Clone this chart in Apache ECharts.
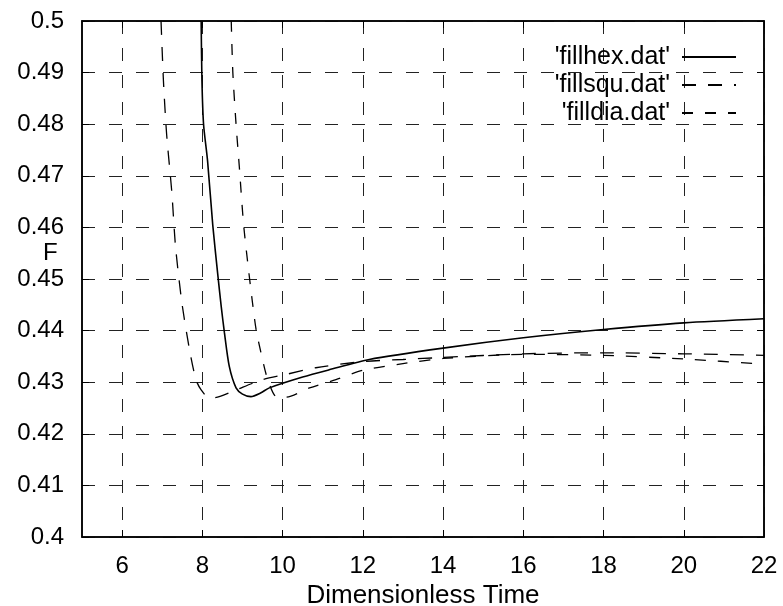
<!DOCTYPE html>
<html>
<head>
<meta charset="utf-8">
<script src="https://cdn.jsdelivr.net/npm/echarts@6/dist/echarts.min.js"></script>
<style>
  html, body { margin: 0; background: #fff; }
  #chart { width: 783px; height: 606px; }
</style>
</head>
<body>
<div id="chart"></div>
<script>
// tick values for the time axis
const xTicks = [6, 8, 10, 12, 14, 16, 18, 20, 22];

// 'fillhex.dat'
const hexT = [7.97, 7.99, 8.03, 8.13, 8.26, 8.38, 8.47, 8.55, 8.67, 8.84, 9.0, 9.21, 9.45, 9.67, 10.5, 11.16, 12.16, 14, 16, 18, 20, 22];
const hexF = [0.500, 0.4884, 0.480, 0.4729, 0.4604, 0.4512, 0.4447, 0.4396, 0.4331, 0.4289, 0.4277, 0.4272, 0.4279, 0.4289, 0.4310, 0.4324, 0.4344, 0.4366, 0.4386, 0.4402, 0.4415, 0.4423];

// 'fillsqu.dat'
const squT = [6.97, 7.03, 7.11, 7.24, 7.33, 7.49, 7.68, 7.84, 7.97, 8.18, 8.42, 8.84, 9.5, 10.08, 10.83, 12, 13, 14, 16, 18, 20, 22];
const squF = [0.500, 0.4884, 0.478, 0.4667, 0.4564, 0.4454, 0.4363, 0.4305, 0.4285, 0.4269, 0.4272, 0.4285, 0.4305, 0.4315, 0.4328, 0.4340, 0.4344, 0.4348, 0.4355, 0.4357, 0.4355, 0.4352];

// 'filldia.dat'
const diaT = [8.72, 8.76, 8.84, 8.92, 9.03, 9.16, 9.25, 9.34, 9.5, 9.63, 9.84, 10.08, 10.67, 11.33, 12, 13, 14, 16, 18, 20, 22];
const diaF = [0.500, 0.490, 0.480, 0.4719, 0.4604, 0.4512, 0.4454, 0.4402, 0.4344, 0.4305, 0.4272, 0.4271, 0.4289, 0.4305, 0.4323, 0.4336, 0.4346, 0.4354, 0.4352, 0.4345, 0.4335];

const pairs = (xs, ys) => xs.map((x, i) => [x, ys[i]]);

const font = 'Liberation Sans';
const gridLine = { show: true, lineStyle: { color: '#222', width: 1, type: [13, 14] } };

const chart = echarts.init(document.getElementById('chart'));

chart.setOption({
  animation: false,
  backgroundColor: '#fff',
  grid: {
    left: 82, right: 19, top: 21, bottom: 69,
    outerBoundsMode: 'none',
    show: true, borderColor: '#000', borderWidth: 1.5
  },
  legend: {
    orient: 'vertical',
    align: 'right',
    right: 41,
    top: 38,
    itemWidth: 54,
    itemHeight: 14,
    itemGap: 0,
    itemStyle: { opacity: 0, borderWidth: 0 },
    textStyle: { fontFamily: font, fontSize: 25, color: '#000', lineHeight: 28, padding: [0, 7, 0, 0] },
    data: ["'fillhex.dat'", "'fillsqu.dat'", "'filldia.dat'"]
  },
  xAxis: [{
    type: 'value',
    min: 5,
    max: 22,
    name: 'Dimensionless Time',
    nameLocation: 'middle',
    nameGap: 44,
    nameTextStyle: { fontFamily: font, fontSize: 26, color: '#000' },
    axisLine: { show: true, lineStyle: { color: '#000', width: 1.5 } },
    axisTick: { show: true, inside: true, length: 7, customValues: xTicks, lineStyle: { color: '#000' } },
    axisLabel: { customValues: xTicks, fontFamily: font, fontSize: 24, color: '#000', margin: 17 },
    splitLine: gridLine
  }, {
    type: 'value',
    position: 'top',
    min: 5,
    max: 22,
    axisLine: { show: true, lineStyle: { color: '#000', width: 1.5 } },
    axisTick: { show: true, inside: true, length: 7, customValues: xTicks, lineStyle: { color: '#000' } },
    axisLabel: { show: false },
    splitLine: { show: false }
  }],
  yAxis: [{
    type: 'value',
    min: 0.4,
    max: 0.5,
    interval: 0.01,
    axisLine: { show: true, lineStyle: { color: '#000', width: 1.5 } },
    axisTick: { show: true, inside: true, length: 7, lineStyle: { color: '#000' } },
    axisLabel: { fontFamily: font, fontSize: 24, color: '#000', margin: 18 },
    splitLine: gridLine
  }, {
    type: 'value',
    position: 'right',
    min: 0.4,
    max: 0.5,
    interval: 0.01,
    axisLine: { show: true, lineStyle: { color: '#000', width: 1.5 } },
    axisTick: { show: true, inside: true, length: 7, lineStyle: { color: '#000' } },
    axisLabel: { show: false },
    splitLine: { show: false }
  }],
  graphic: [{
    type: 'text',
    left: 43,
    top: 241,
    style: { text: 'F', fontFamily: font, fontSize: 24, fill: '#000' }
  }],
  series: [{
    name: "'fillhex.dat'",
    type: 'line',
    data: pairs(hexT, hexF),
    showSymbol: false,
    symbol: 'none',
    smooth: 0.25,
    lineStyle: { color: '#000', width: 1.6, type: 'solid' },
    itemStyle: { color: '#000' }
  }, {
    name: "'fillsqu.dat'",
    type: 'line',
    data: pairs(squT, squF),
    showSymbol: false,
    symbol: 'none',
    smooth: 0.25,
    lineStyle: { color: '#000', width: 1.3, type: [14, 12] },
    itemStyle: { color: '#000' }
  }, {
    name: "'filldia.dat'",
    type: 'line',
    data: pairs(diaT, diaF),
    showSymbol: false,
    symbol: 'none',
    smooth: 0.25,
    lineStyle: { color: '#000', width: 1.3, type: [11, 12] },
    itemStyle: { color: '#000' }
  }]
});
</script>
</body>
</html>
